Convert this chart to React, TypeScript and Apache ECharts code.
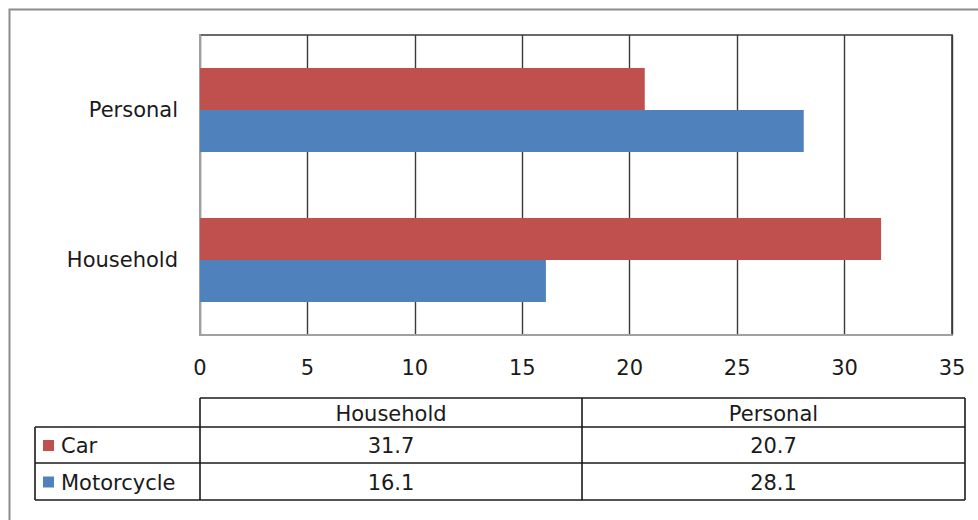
import { useEffect, useRef } from "react";
import * as echarts from "echarts";

// Trip purpose by vehicle type
const categories = ["Household", "Personal"];
const seriesNames = ["Car", "Motorcycle"];
const carValues = [31.7, 20.7];
const motorcycleValues = [16.1, 28.1];
const seriesValues = [carValues, motorcycleValues];
const seriesColors = ["#C0504D", "#4F81BD"];
const axisMin = 0;
const axisMax = 35;
const axisStep = 5;

const FONT = '"DejaVu Sans", "Noto Sans", sans-serif';
const FONT_SIZE = 21;
const TEXT_COLOR = "#1a1a1a";

function buildTable(): any[] {
  const els: any[] = [];
  const xLeft = 35;
  const xSplit = [200, 582, 965];
  const yHead = 398;
  const yRows = [427, 463, 500];
  const lineStyle = { stroke: "#1a1a1a", lineWidth: 1.6 };
  const line = (x1: number, y1: number, x2: number, y2: number) =>
    els.push({ type: "line", shape: { x1, y1, x2, y2 }, style: lineStyle, z: 10 });

  // header row (category names)
  line(xSplit[0], yHead, xSplit[2], yHead);
  line(xLeft, yRows[0], xSplit[2], yRows[0]);
  yRows.slice(1).forEach((y) => line(xLeft, y, xSplit[2], y));
  line(xLeft, yRows[0], xLeft, yRows[2]);
  xSplit.forEach((x) => line(x, yHead, x, yRows[2]));

  categories.forEach((c, ci) => {
    els.push({
      type: "text",
      x: (xSplit[ci] + xSplit[ci + 1]) / 2,
      y: (yHead + yRows[0]) / 2 + 1,
      style: { text: c, fontSize: FONT_SIZE, fontFamily: FONT, fill: TEXT_COLOR, align: "center", verticalAlign: "middle" },
      z: 10,
    });
  });

  seriesNames.forEach((name, si) => {
    const top = si === 0 ? yRows[0] : yRows[si];
    const bottom = yRows[si + 1];
    const cy = (top + bottom) / 2;
    els.push({
      type: "rect",
      shape: { x: 43, y: cy - 5, width: 11, height: 11 },
      style: { fill: seriesColors[si] },
      z: 10,
    });
    els.push({
      type: "text",
      x: 61,
      y: cy + 1,
      style: { text: name, fontSize: FONT_SIZE, fontFamily: FONT, fill: TEXT_COLOR, align: "left", verticalAlign: "middle" },
      z: 10,
    });
    categories.forEach((_, ci) => {
      els.push({
        type: "text",
        x: (xSplit[ci] + xSplit[ci + 1]) / 2,
        y: cy + 1,
        style: {
          text: String(seriesValues[si][ci]),
          fontSize: FONT_SIZE,
          fontFamily: FONT,
          fill: TEXT_COLOR,
          align: "center",
          verticalAlign: "middle",
        },
        z: 10,
      });
    });
  });
  return els;
}

export default function App() {
  const ref = useRef<HTMLDivElement>(null);

  useEffect(() => {
    if (!ref.current) return;
    const chart = echarts.init(ref.current, null, { renderer: "svg" });
    chart.setOption({
      animation: false,
      backgroundColor: "#ffffff",
      textStyle: { fontFamily: FONT },
      grid: {
        left: 200,
        top: 35,
        width: 752,
        height: 300,
        show: true,
        borderColor: "#3a3a3a",
        borderWidth: 1.6,
        backgroundColor: "transparent",
      },
      xAxis: {
        type: "value",
        min: axisMin,
        max: axisMax,
        interval: axisStep,
        axisLine: { show: true, lineStyle: { color: "#a0a0a0", width: 2 } },
        axisTick: { show: false },
        axisLabel: { margin: 22, fontSize: FONT_SIZE, color: TEXT_COLOR, fontFamily: FONT },
        splitLine: { show: true, lineStyle: { color: "#3a3a3a", width: 1.4 } },
      },
      yAxis: {
        type: "category",
        data: categories,
        axisLine: { show: true, lineStyle: { color: "#a0a0a0", width: 2 } },
        axisTick: { show: false },
        axisLabel: { margin: 22, fontSize: FONT_SIZE, color: TEXT_COLOR, fontFamily: FONT },
        splitLine: { show: false },
      },
      series: seriesNames.map((name, i) => ({
        name,
        type: "bar",
        data: seriesValues[i],
        barWidth: 42,
        barGap: "0%",
        itemStyle: { color: seriesColors[i] },
      })),
      graphic: [
        {
          type: "polyline",
          shape: { points: [[9.5, 520], [9.5, 9.5], [978, 9.5]] },
          style: { stroke: "#8c8c8c", lineWidth: 2, fill: "none" },
        },
        ...buildTable(),
      ],
    });
    return () => chart.dispose();
  }, []);

  return (
    <div
      ref={ref}
      style={{ position: "fixed", left: 0, top: 0, width: 978, height: 520, background: "#fff" }}
    />
  );
}
